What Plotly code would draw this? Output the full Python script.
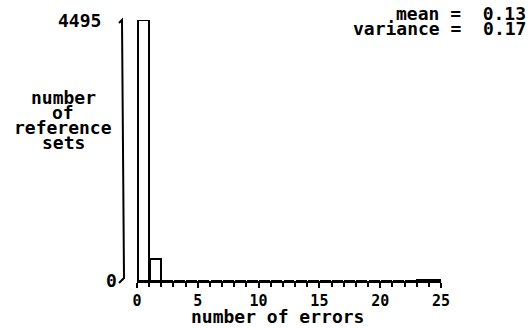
import plotly.graph_objects as go

# Data
errors = list(range(0, 25))
counts = [4495, 380, 0, 0, 0, 0, 0, 0, 0, 0, 0, 0, 0, 0, 0, 0, 0, 0, 0, 0, 0, 0, 0, 10, 10]
x_tick_vals = [0, 5, 10, 15, 20, 25]
x_tick_text = ["0", "5", "10", "15", "20", "25"]
y_title_lines = ["number", "of", "reference", "sets"]
stats_lines = ["mean =  0.13", "variance =  0.17"]
y_max = 4495

W, H = 531, 328
# plot area in reference pixels: x 120..441, y 20..281
ML = 120
MT = 20
MR = W - 441
MB = H - 281
PW = W - ML - MR
PH = H - MT - MB

def px2paper_x(px):
    return (px - ML) / PW

def px2paper_y(py):
    return (MT + PH - py) / PH

FONT = "DejaVu Sans Mono"
TXT = dict(family=FONT, size=18, color="black", weight="bold")

fig = go.Figure()
fig.add_trace(go.Bar(
    x=[e + 0.5 for e in errors],
    y=counts,
    width=0.9,
    marker=dict(color="white", line=dict(color="black", width=2)),
    showlegend=False,
    hoverinfo="skip",
))

fig.update_layout(
    width=W, height=H,
    margin=dict(l=ML, r=MR, t=MT, b=MB),
    plot_bgcolor="white", paper_bgcolor="white",
    bargap=0,
    xaxis=dict(
        domain=[px2paper_x(137), 1],
        range=[0, 25],
        tickmode="array", tickvals=x_tick_vals, ticktext=x_tick_text,
        ticks="outside", ticklen=5, tickwidth=1.5, tickcolor="black",
        minor=dict(dtick=1, tick0=0, ticks="outside", ticklen=4, tickwidth=1.5, tickcolor="black"),
        showline=True, linecolor="black", linewidth=2,
        showgrid=False, zeroline=False,
        tickfont=dict(family=FONT, size=15, color="black", weight="bold"),
    ),
    yaxis=dict(
        range=[0, y_max],
        visible=False,
        showgrid=False,
    ),
)

# y axis bracket line
fig.add_shape(type="path",
              path=f"M {px2paper_x(119)},{px2paper_y(23)} L {px2paper_x(122)},{px2paper_y(20)} "
                   f"L {px2paper_x(124)},{px2paper_y(278)} L {px2paper_x(119)},{px2paper_y(283)}",
              xref="paper", yref="paper", line=dict(color="black", width=2))

annots = []
annots.append(dict(text=str(y_max), x=px2paper_x(103), y=px2paper_y(20), xref="paper", yref="paper",
                   xanchor="right", yanchor="middle", showarrow=False, font=TXT))
annots.append(dict(text="0", x=px2paper_x(119), y=px2paper_y(280), xref="paper", yref="paper",
                   xanchor="right", yanchor="middle", showarrow=False, font=TXT))
for i, line in enumerate(y_title_lines):
    annots.append(dict(text=line, x=px2paper_x(63), y=px2paper_y(97 + 15.3 * i), xref="paper", yref="paper",
                       xanchor="center", yanchor="middle", showarrow=False, font=TXT))
annots.append(dict(text="number of errors", x=px2paper_x(277), y=px2paper_y(316), xref="paper", yref="paper",
                   xanchor="center", yanchor="middle", showarrow=False, font=TXT))
for i, line in enumerate(stats_lines):
    annots.append(dict(text=line, x=px2paper_x(528), y=px2paper_y(13 + 15 * i), xref="paper", yref="paper",
                       xanchor="right", yanchor="middle", showarrow=False, font=TXT))
fig.update_layout(annotations=annots)

fig.write_html("out.html", config={"displayModeBar": False},
               post_script="document.body.style.margin='0';document.body.style.overflow='hidden';")
